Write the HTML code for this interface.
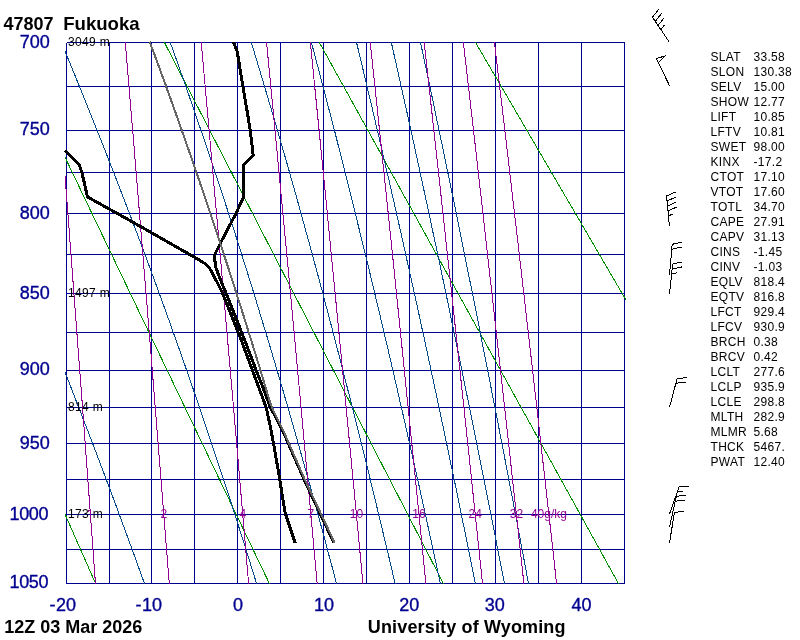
<!DOCTYPE html>
<html><head><meta charset="utf-8"><style>
html,body{margin:0;padding:0;background:#fff;}
svg{display:block;font-family:"Liberation Sans",sans-serif;will-change:transform;}
</style></head><body>
<svg width="800" height="640" viewBox="0 0 800 640">
<defs><clipPath id="c"><rect x="65" y="42" width="561" height="542"/></clipPath></defs>
<rect width="800" height="640" fill="#fff"/>
<path d="M66.5,42.5V583.5M109.5,42.5V583.5M151.5,42.5V583.5M194.5,42.5V583.5M237.5,42.5V583.5M280.5,42.5V583.5M323.5,42.5V583.5M366.5,42.5V583.5M409.5,42.5V583.5M452.5,42.5V583.5M495.5,42.5V583.5M538.5,42.5V583.5M581.5,42.5V583.5M624.5,42.5V583.5M66.5,42.5H624.5M66.5,86.5H624.5M66.5,130.5H624.5M66.5,172.5H624.5M66.5,213.5H624.5M66.5,254.5H624.5M66.5,293.5H624.5M66.5,332.5H624.5M66.5,370.5H624.5M66.5,407.5H624.5M66.5,443.5H624.5M66.5,479.5H624.5M66.5,514.5H624.5M66.5,549.5H624.5M66.5,583.5H624.5" stroke="#000090" fill="none" shape-rendering="crispEdges"/>
<g clip-path="url(#c)" fill="none" stroke-width="1" shape-rendering="crispEdges">
<path d="M64.7,513.5L96.9,586.5" stroke="#009000"/>
<path d="M64.6,156.4L270.8,586.5" stroke="#009000"/>
<path d="M162.9,39.5L444.9,586.5" stroke="#009000"/>
<path d="M317.7,39.5L620.1,586.5" stroke="#009000"/>
<path d="M473.8,39.5L626.8,301.4" stroke="#009000"/>
<path d="M149.1,596.6L144.3,583.2L139.5,569.8L134.6,556.2L129.6,542.5L124.5,528.7L119.4,514.9L114.3,500.9L109.0,486.8L103.7,472.7L98.3,458.4L92.8,444.0L87.3,429.5L81.6,414.9L75.9,400.2L70.2,385.3L64.3,370.4L58.4,355.3L52.3,340.1L46.2,324.8L40.0,309.3L33.8,293.7L27.4,278.0L20.9,262.2L14.4,246.2L7.8,230.1L1.0,213.8L-5.8,197.4L-12.7,180.8L-19.7,164.1L-26.8,147.2L-34.0,130.1L-41.3,112.9L-48.7,95.5L-56.2,78.0L-63.8,60.2L-71.5,42.3L-79.4,24.2" stroke="#05488c"/>
<path d="M260.6,596.6L256.5,583.2L252.3,569.8L248.1,556.2L243.8,542.5L239.4,528.7L235.0,514.9L230.5,500.9L225.9,486.8L221.3,472.7L216.6,458.4L211.8,444.0L206.9,429.5L202.0,414.9L197.0,400.2L191.9,385.3L186.7,370.4L181.4,355.3L176.0,340.1L170.6,324.8L165.0,309.3L159.4,293.7L153.6,278.0L147.8,262.2L141.8,246.2L135.8,230.1L129.6,213.8L123.3,197.4L116.9,180.8L110.4,164.1L103.8,147.2L97.0,130.1L90.1,112.9L83.1,95.5L76.0,78.0L68.7,60.2L61.3,42.3L53.7,24.2" stroke="#05488c"/>
<path d="M340.0,596.6L336.4,583.2L332.9,569.8L329.2,556.2L325.6,542.5L321.9,528.7L318.1,514.9L314.3,500.9L310.4,486.8L306.4,472.7L302.4,458.4L298.4,444.0L294.2,429.5L290.1,414.9L285.8,400.2L281.5,385.3L277.1,370.4L272.6,355.3L268.1,340.1L263.4,324.8L258.7,309.3L254.0,293.7L249.1,278.0L244.1,262.2L239.1,246.2L234.0,230.1L228.7,213.8L223.4,197.4L217.9,180.8L212.4,164.1L206.7,147.2L200.9,130.1L195.0,112.9L189.0,95.5L182.9,78.0L176.6,60.2L170.2,42.3L163.6,24.2" stroke="#05488c"/>
<path d="M398.2,596.6L395.0,583.2L391.9,569.8L388.7,556.2L385.4,542.5L382.1,528.7L378.8,514.9L375.4,500.9L372.0,486.8L368.6,472.7L365.1,458.4L361.5,444.0L357.9,429.5L354.2,414.9L350.5,400.2L346.7,385.3L342.9,370.4L339.0,355.3L335.1,340.1L331.1,324.8L327.0,309.3L322.9,293.7L318.7,278.0L314.4,262.2L310.1,246.2L305.6,230.1L301.1,213.8L296.6,197.4L291.9,180.8L287.2,164.1L282.3,147.2L277.4,130.1L272.4,112.9L267.2,95.5L262.0,78.0L256.7,60.2L251.2,42.3L245.6,24.2" stroke="#05488c"/>
<path d="M443.2,596.6L440.3,583.2L437.4,569.8L434.5,556.2L431.5,542.5L428.5,528.7L425.5,514.9L422.4,500.9L419.3,486.8L416.1,472.7L412.9,458.4L409.7,444.0L406.4,429.5L403.1,414.9L399.7,400.2L396.3,385.3L392.9,370.4L389.4,355.3L385.8,340.1L382.2,324.8L378.6,309.3L374.8,293.7L371.1,278.0L367.3,262.2L363.4,246.2L359.4,230.1L355.4,213.8L351.4,197.4L347.2,180.8L343.0,164.1L338.7,147.2L334.4,130.1L329.9,112.9L325.4,95.5L320.8,78.0L316.1,60.2L311.4,42.3L306.5,24.2" stroke="#05488c"/>
<path d="M478.0,596.6L475.3,583.2L472.6,569.8L469.9,556.2L467.1,542.5L464.3,528.7L461.4,514.9L458.6,500.9L455.7,486.8L452.7,472.7L449.7,458.4L446.7,444.0L443.7,429.5L440.6,414.9L437.5,400.2L434.3,385.3L431.1,370.4L427.9,355.3L424.6,340.1L421.2,324.8L417.9,309.3L414.4,293.7L411.0,278.0L407.4,262.2L403.9,246.2L400.3,230.1L396.6,213.8L392.9,197.4L389.1,180.8L385.2,164.1L381.3,147.2L377.3,130.1L373.3,112.9L369.2,95.5L365.0,78.0L360.8,60.2L356.5,42.3L352.1,24.2" stroke="#05488c"/>
<path d="M506.9,596.6L504.4,583.2L501.7,569.8L499.1,556.2L496.4,542.5L493.7,528.7L491.0,514.9L488.2,500.9L485.4,486.8L482.6,472.7L479.7,458.4L476.8,444.0L473.9,429.5L471.0,414.9L468.0,400.2L464.9,385.3L461.9,370.4L458.8,355.3L455.7,340.1L452.5,324.8L449.3,309.3L446.0,293.7L442.7,278.0L439.4,262.2L436.0,246.2L432.5,230.1L429.1,213.8L425.5,197.4L421.9,180.8L418.3,164.1L414.6,147.2L410.9,130.1L407.1,112.9L403.2,95.5L399.3,78.0L395.3,60.2L391.3,42.3L387.1,24.2" stroke="#05488c"/>
<path d="M531.0,596.6L528.5,583.2L525.9,569.8L523.4,556.2L520.8,542.5L518.2,528.7L515.6,514.9L512.9,500.9L510.2,486.8L507.5,472.7L504.8,458.4L502.0,444.0L499.2,429.5L496.4,414.9L493.5,400.2L490.6,385.3L487.7,370.4L484.7,355.3L481.7,340.1L478.7,324.8L475.6,309.3L472.5,293.7L469.3,278.0L466.1,262.2L462.9,246.2L459.6,230.1L456.3,213.8L453.0,197.4L449.5,180.8L446.1,164.1L442.6,147.2L439.0,130.1L435.4,112.9L431.8,95.5L428.1,78.0L424.3,60.2L420.5,42.3L416.6,24.2" stroke="#05488c"/>
<path d="M53.2,24.2L57.9,84.4L62.4,142.5L66.8,198.9L70.9,253.5L74.9,306.5L78.8,358.1L82.6,408.2L86.2,457.1L89.7,504.7L93.1,551.2L96.4,596.6" stroke="#940094"/>
<path d="M123.8,24.2L128.8,84.4L133.7,142.5L138.3,198.9L142.8,253.5L147.1,306.5L151.3,358.1L155.3,408.2L159.2,457.1L163.0,504.7L166.7,551.2L170.3,596.6" stroke="#940094"/>
<path d="M199.6,24.2L205.0,84.4L210.2,142.5L215.2,198.9L220.1,253.5L224.7,306.5L229.2,358.1L233.6,408.2L237.8,457.1L241.9,504.7L245.9,551.2L249.7,596.6" stroke="#940094"/>
<path d="M264.8,24.2L270.6,84.4L276.2,142.5L281.5,198.9L286.7,253.5L291.7,306.5L296.5,358.1L301.1,408.2L305.6,457.1L310.0,504.7L314.2,551.2L318.3,596.6" stroke="#940094"/>
<path d="M308.5,24.2L314.5,84.4L320.3,142.5L325.9,198.9L331.2,253.5L336.4,306.5L341.4,358.1L346.2,408.2L350.9,457.1L355.5,504.7L359.9,551.2L364.1,596.6" stroke="#940094"/>
<path d="M368.3,24.2L374.7,84.4L380.8,142.5L386.7,198.9L392.4,253.5L397.8,306.5L403.1,358.1L408.2,408.2L413.2,457.1L418.0,504.7L422.6,551.2L427.2,596.6" stroke="#940094"/>
<path d="M422.1,24.2L428.8,84.4L435.2,142.5L441.4,198.9L447.3,253.5L453.1,306.5L458.6,358.1L464.0,408.2L469.2,457.1L474.2,504.7L479.1,551.2L483.9,596.6" stroke="#940094"/>
<path d="M461.3,24.2L468.2,84.4L474.9,142.5L481.3,198.9L487.4,253.5L493.4,306.5L499.1,358.1L504.7,408.2L510.1,457.1L515.3,504.7L520.4,551.2L525.3,596.6" stroke="#940094"/>
<path d="M492.3,24.2L499.4,84.4L506.3,142.5L512.8,198.9L519.2,253.5L525.3,306.5L531.2,358.1L536.9,408.2L542.4,457.1L547.8,504.7L553.0,551.2L558.0,596.6" stroke="#940094"/>
</g>
<g font-size="12" fill="#940094"><text x="163.8" y="518" text-anchor="middle">2</text><text x="242.8" y="518" text-anchor="middle">4</text><text x="310.9" y="518" text-anchor="middle">7</text><text x="356.4" y="518" text-anchor="middle">10</text><text x="419.0" y="518" text-anchor="middle">16</text><text x="475.3" y="518" text-anchor="middle">24</text><text x="516.4" y="518" text-anchor="middle">32</text><text x="548.9" y="518" text-anchor="middle">40g/kg</text></g>
<path d="M88,511.5L90.5,509.5V518" stroke="#940094" fill="none" shape-rendering="crispEdges"/>
<g fill="none" stroke-linejoin="round" shape-rendering="crispEdges">
<path d="M65.0,150.6L79.4,165.0L81.9,172.5L87.5,196.9L120.0,215.0L151.2,232.5L195.0,257.5L199.7,260.2L205.2,263.8L208.7,266.9L210.6,270.0L213.8,276.2L217.7,283.3L222.0,291.9L241.2,340.0L252.3,370.0L257.9,385.0L263.4,400.0L266.3,408.0L270.6,428.0L272.9,440.0L278.9,474.4L285.0,512.3L295.3,543.2" stroke="#000" stroke-width="3"/>
<path d="M233.5,42.0L237.2,51.5L238.6,60.0L242.9,86.6L247.2,111.6L250.3,130.5L253.2,155.4L243.6,164.8L243.4,197.5L235.9,213.6L220.3,243.3L214.5,255.2L214.9,260.6L215.7,266.9L218.4,274.7L221.6,282.5L225.5,291.9L244.7,340.0L256.0,370.0L262.0,385.0L267.6,400.0L270.3,407.5L275.4,416.2L279.6,424.6L283.8,433.1L288.1,443.0L304.8,481.1L322.0,517.4L333.9,542.8" stroke="#000" stroke-width="3"/>
<path d="M149.6,41.5L151.8,47.5L154.1,53.5L156.3,59.5L158.5,65.5L160.7,71.5L162.9,77.5L165.1,83.5L167.2,89.5L169.4,95.5L171.5,101.5L173.7,107.5L175.8,113.5L178.0,119.5L180.1,125.5L182.2,131.5L184.3,137.5L186.4,143.5L188.5,149.5L190.6,155.5L192.7,161.5L194.7,167.5L196.8,173.5L198.9,179.5L200.9,185.5L203.0,191.5L205.0,197.5L207.0,203.5L209.0,209.5L211.0,215.5L213.0,221.5L215.0,227.5L217.0,233.5L219.0,239.5L221.0,245.5L222.9,251.5L224.9,257.5L226.8,263.5L228.8,269.5L230.7,275.5L232.7,281.5L234.6,287.5L236.5,293.5L238.4,299.5L240.3,305.5L242.2,311.5L244.1,317.5L246.0,323.5L247.8,329.5L249.7,335.5L251.6,341.5L253.4,347.5L255.3,353.5L257.1,359.5L259.0,365.5L260.8,371.5L262.6,377.5L264.4,383.5L266.2,389.5L268.0,395.5L269.8,401.5L271.9,407.4L276.1,416.2L280.3,424.6L284.5,433.1L288.8,443.0L305.5,481.1L322.7,517.4L334.6,542.8" stroke="#666666" stroke-width="2"/>
</g>
<g font-size="12" fill="#000" letter-spacing="0.35" word-spacing="0"><text x="68" y="46">3049 m</text><text x="68" y="297">1497 m</text><text x="68" y="411">814 m</text><text x="68" y="518">173 m</text></g>
<g font-size="18" fill="#000090" stroke="#000090" stroke-width="0.35"><text x="49.8" y="48" text-anchor="end">700</text><text x="49.8" y="135" text-anchor="end">750</text><text x="49.8" y="219" text-anchor="end">800</text><text x="49.8" y="299" text-anchor="end">850</text><text x="49.8" y="375" text-anchor="end">900</text><text x="49.8" y="449" text-anchor="end">950</text><text x="48.3" y="520" text-anchor="end" letter-spacing="-0.3">1000</text><text x="48.3" y="588" text-anchor="end" letter-spacing="-0.3">1050</text><text x="233.0" y="611">0</text><text x="314.0" y="611">10</text><text x="399.3" y="611">20</text><text x="484.8" y="611">30</text><text x="571.6" y="611">40</text><text x="49.4" y="611">-</text><text x="76.0" y="611" text-anchor="end">20</text><text x="135.6" y="611">-</text><text x="162.0" y="611" text-anchor="end">10</text></g>
<g font-size="18" font-weight="bold" fill="#000"><text x="3.5" y="29.5">47807</text><text x="63.2" y="29.6" font-size="18.6" letter-spacing="0">Fukuoka</text><text x="4.2" y="632.7">12Z 03 Mar 2026</text><text x="367.8" y="632.7" letter-spacing="0.15">University of Wyoming</text></g>
<g font-size="12" fill="#000" letter-spacing="0.3"><text x="710.5" y="61">SLAT</text><text x="753.5" y="61">33.58</text><text x="710.5" y="76">SLON</text><text x="753.5" y="76">130.38</text><text x="710.5" y="91">SELV</text><text x="753.5" y="91">15.00</text><text x="710.5" y="106">SHOW</text><text x="753.5" y="106">12.77</text><text x="710.5" y="121">LIFT</text><text x="753.5" y="121">10.85</text><text x="710.5" y="136">LFTV</text><text x="753.5" y="136">10.81</text><text x="710.5" y="151">SWET</text><text x="753.5" y="151">98.00</text><text x="710.5" y="166">KINX</text><text x="753.5" y="166">-17.2</text><text x="710.5" y="181">CTOT</text><text x="753.5" y="181">17.10</text><text x="710.5" y="196">VTOT</text><text x="753.5" y="196">17.60</text><text x="710.5" y="211">TOTL</text><text x="753.5" y="211">34.70</text><text x="710.5" y="226">CAPE</text><text x="753.5" y="226">27.91</text><text x="710.5" y="241">CAPV</text><text x="753.5" y="241">31.13</text><text x="710.5" y="256">CINS</text><text x="753.5" y="256">-1.45</text><text x="710.5" y="271">CINV</text><text x="753.5" y="271">-1.03</text><text x="710.5" y="286">EQLV</text><text x="753.5" y="286">818.4</text><text x="710.5" y="301">EQTV</text><text x="753.5" y="301">816.8</text><text x="710.5" y="316">LFCT</text><text x="753.5" y="316">929.4</text><text x="710.5" y="331">LFCV</text><text x="753.5" y="331">930.9</text><text x="710.5" y="346">BRCH</text><text x="753.5" y="346">0.38</text><text x="710.5" y="361">BRCV</text><text x="753.5" y="361">0.42</text><text x="710.5" y="376">LCLT</text><text x="753.5" y="376">277.6</text><text x="710.5" y="391">LCLP</text><text x="753.5" y="391">935.9</text><text x="710.5" y="406">LCLE</text><text x="753.5" y="406">298.8</text><text x="710.5" y="421">MLTH</text><text x="753.5" y="421">282.9</text><text x="710.5" y="436">MLMR</text><text x="753.5" y="436">5.68</text><text x="710.5" y="451">THCK</text><text x="753.5" y="451">5467.</text><text x="710.5" y="466">PWAT</text><text x="753.5" y="466">12.40</text></g>
<path d="M669.5,42.5L652.5,17.2M652.5,17.2L658.7,9.3M655.3,21.4L661.5,13.5M658.1,25.5L664.2,17.6M660.9,29.7L664.3,25.3M669.5,85.6L656.4,58.6M656.4,58.6L665.6,55.7L658.4,62.6M669.5,226.5L666.5,196.0M666.5,196.0L675.7,192.0M667.0,201.0L676.2,197.0M667.5,206.0L676.6,201.9M668.0,210.9L677.1,206.9M668.5,215.9L673.5,213.7M669.5,274.6L672.2,244.3M672.2,244.3L681.9,242.1M671.8,249.3L681.5,247.0M669.5,293.7L672.7,264.0M672.7,264.0L682.5,261.9M672.2,269.0L682.0,266.9M671.6,273.9L677.0,272.8M669.5,407.3L677.2,378.3M677.2,378.3L687.2,377.8M675.9,383.1L685.9,382.6M669.5,514.0L679.3,486.5M679.3,486.5L689.3,486.8M677.6,491.2L683.1,491.4M669.5,527.3L676.3,496.3M676.3,496.3L686.3,495.3M675.2,501.2L685.2,500.2M669.5,542.6L674.5,512.5M674.5,512.5L684.4,511.0" stroke="#000" stroke-width="1" fill="none" shape-rendering="crispEdges"/>
</svg>
</body></html>
